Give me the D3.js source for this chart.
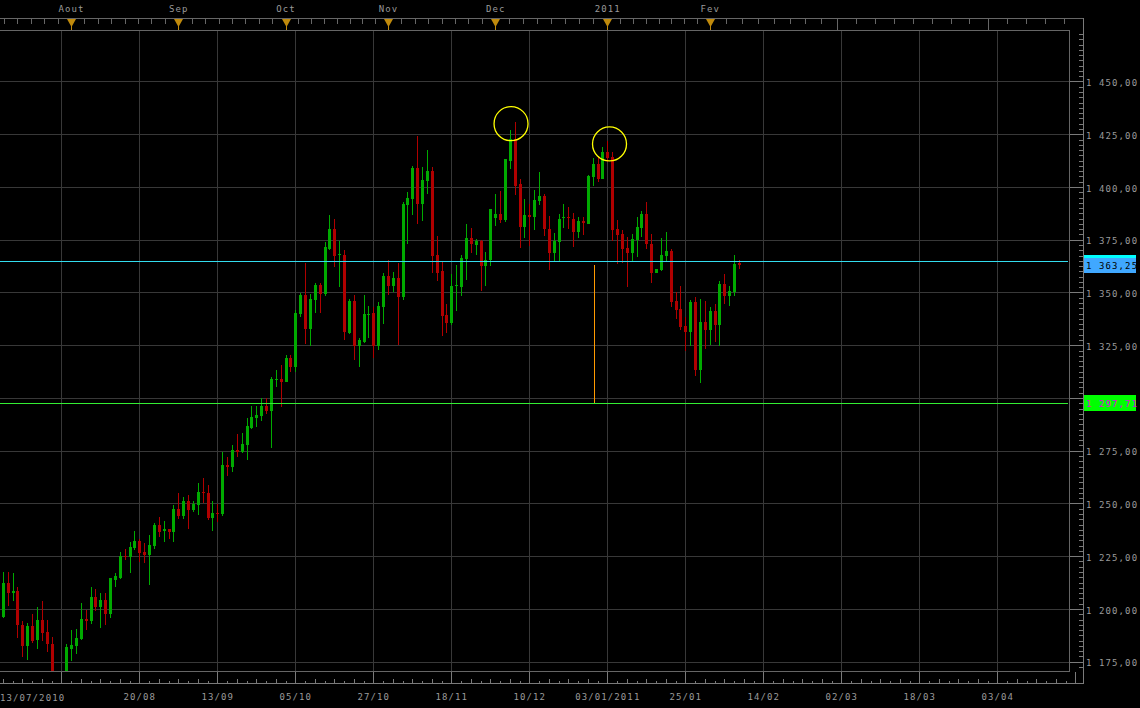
<!DOCTYPE html>
<html><head><meta charset="utf-8">
<script src="https://cdn.jsdelivr.net/npm/d3@7"></script>
<style>
html,body{margin:0;padding:0;background:#000;}
svg{display:block;}
text{font-family:"DejaVu Sans Mono",monospace;font-size:9px;letter-spacing:1.1px;}
</style></head><body>
<svg id="c" width="1140" height="708"></svg>
<script>
// ---------------- DATA ----------------
const opens = [
1196.1,1212.2,1207.8,1208.5,1192.5,1182.3,1192.0,1185.1,1194.9,1189.3,
1183.5,1160.5,1163.0,1166.0,1181.1,1182.4,1185.9,1195.3,1194.2,1205.7,
1201.1,1204.3,1197.7,1213.5,1214.6,1225.1,1224.5,1229.1,1232.2,1227.0,
1225.6,1230.0,1240.0,1236.8,1237.9,1236.6,1247.4,1244.0,1251.2,1246.9,
1249.3,1255.3,1255.0,1243.3,1245.5,1245.2,1268.2,1267.4,1275.3,1274.5,
1277.7,1285.6,1290.6,1291.4,1296.1,1293.8,1308.4,1309.2,1307.5,1319.0,
1314.7,1339.7,1348.7,1332.6,1346.3,1353.4,1349.1,1370.8,1380.2,1367.6,
1367.6,1331.0,1345.8,1324.5,1326.6,1339.2,1340.3,1324.7,1343.1,1357.8,
1352.9,1356.7,1347.9,1391.3,1394.1,1408.9,1391.7,1402.6,1407.8,1367.6,
1360.0,1339.2,1335.3,1353.1,1352.6,1365.7,1376.0,1372.3,1374.2,1362.5,
1365.2,1385.4,1387.0,1384.2,1412.4,1422.8,1401.2,1381.0,1386.5,1385.7,
1393.3,1395.5,1380.2,1368.9,1373.9,1385.3,1385.9,1384.6,1378.6,1383.7,
1382.6,1404.7,1410.7,1403.6,1416.8,1414.1,1379.9,1377.5,1371.0,1368.7,
1375.0,1380.5,1387.0,1373.1,1359.2,1360.5,1367.3,1369.5,1345.8,1342.0,
1334.1,1331.2,1345.5,1313.2,1336.0,1332.1,1341.1,1334.5,1353.9,1348.3,
1350.2,1364.0];
const highs = [
1217.7,1217.6,1216.9,1210.3,1194.3,1193.5,1197.5,1201.0,1203.8,1194.6,
1186.6,1169.0,1169.5,1183.5,1190.1,1190.6,1203.0,1199.6,1210.6,1209.5,
1207.5,1207.8,1214.9,1217.0,1227.0,1228.5,1231.8,1237.0,1233.0,1231.3,
1235.0,1240.8,1243.6,1241.7,1237.9,1249.3,1255.0,1253.0,1254.0,1251.0,
1259.8,1262.0,1258.7,1251.2,1249.6,1274.4,1271.9,1277.7,1282.9,1283.5,
1290.5,1296.1,1296.1,1299.9,1299.9,1309.9,1313.2,1315.5,1320.3,1320.3,
1341.6,1349.6,1364.1,1349.1,1354.7,1354.7,1373.7,1386.5,1384.6,1374.2,
1370.3,1346.8,1348.7,1328.2,1348.7,1343.5,1343.1,1345.4,1359.2,1365.2,
1359.5,1364.1,1392.8,1397.6,1409.9,1424.1,1409.7,1417.3,1409.7,1376.7,
1364.4,1344.4,1358.9,1362.9,1367.6,1382.3,1380.7,1375.2,1375.0,1369.2,
1389.4,1396.5,1397.9,1413.4,1426.8,1430.7,1403.6,1394.1,1392.0,1398.8,
1407.3,1396.8,1386.2,1378.3,1387.3,1391.7,1390.5,1387.8,1385.7,1385.7,
1405.9,1413.8,1414.9,1418.8,1422.0,1416.8,1384.2,1379.4,1376.3,1377.5,
1386.0,1388.4,1392.8,1377.5,1361.0,1375.6,1378.5,1370.8,1350.0,1352.9,
1338.4,1346.3,1347.9,1346.8,1346.0,1343.1,1344.4,1355.3,1358.9,1352.9,
1367.6,1365.2];
const lows = [
1195.7,1201.5,1204.0,1186.3,1177.2,1175.6,1183.8,1181.1,1184.6,1179.8,
1158.0,1155.0,1157.5,1163.0,1175.3,1178.7,1185.4,1190.1,1192.8,1199.0,
1191.2,1192.6,1195.5,1210.6,1214.2,1223.3,1217.2,1228.0,1222.4,1222.0,
1211.4,1228.4,1234.0,1231.8,1233.0,1231.8,1242.5,1242.8,1237.9,1246.0,
1244.5,1250.1,1242.2,1237.0,1241.4,1244.2,1263.1,1265.0,1272.1,1274.0,
1270.6,1285.1,1286.3,1289.0,1292.3,1276.3,1305.1,1295.8,1307.5,1312.4,
1312.4,1338.4,1325.5,1324.5,1340.3,1340.3,1348.2,1370.0,1362.0,1352.6,
1327.4,1330.2,1317.9,1314.7,1326.1,1328.2,1319.0,1322.6,1334.9,1348.7,
1350.2,1325.0,1346.6,1372.8,1386.5,1382.3,1383.7,1396.5,1359.4,1355.3,
1329.3,1330.8,1334.5,1341.2,1348.3,1355.8,1368.7,1367.6,1350.7,1353.1,
1362.5,1381.5,1383.0,1383.4,1408.3,1396.0,1371.0,1376.0,1372.0,1379.4,
1391.3,1376.7,1360.5,1364.4,1364.9,1380.5,1380.2,1371.5,1376.0,1377.1,
1382.3,1400.4,1402.3,1403.6,1411.7,1374.4,1363.7,1364.0,1352.6,1364.9,
1366.8,1376.3,1370.8,1354.5,1359.2,1360.2,1364.8,1343.1,1337.3,1332.1,
1322.2,1324.7,1310.3,1307.2,1323.1,1325.0,1326.6,1324.7,1344.4,1343.5,
1348.3,1361.3];
const closes = [
1212.2,1207.8,1208.5,1192.3,1182.3,1192.0,1185.0,1194.9,1188.8,1183.4,
1160.5,1163.0,1166.0,1181.8,1183.0,1186.3,1195.3,1194.5,1205.7,1201.1,
1204.3,1197.7,1214.6,1215.4,1225.1,1224.5,1229.3,1232.2,1226.7,1225.6,
1230.3,1240.0,1236.6,1237.8,1236.6,1247.4,1244.0,1251.2,1246.9,1249.8,
1255.4,1254.8,1243.3,1245.6,1245.2,1268.2,1267.4,1275.3,1274.5,1278.0,
1286.7,1291.0,1291.9,1296.1,1293.8,1308.9,1309.2,1307.5,1319.0,1314.7,
1340.3,1348.7,1332.6,1346.8,1353.4,1349.1,1371.5,1380.2,1367.3,1368.1,
1331.3,1345.8,1324.5,1327.4,1339.7,1340.0,1324.7,1343.5,1357.8,1352.9,
1356.7,1347.9,1392.1,1394.7,1408.9,1391.7,1403.1,1407.8,1367.1,1359.4,
1338.7,1335.3,1353.1,1353.5,1366.3,1376.0,1372.8,1374.4,1362.5,1365.6,
1389.4,1387.0,1384.2,1413.4,1422.8,1400.7,1381.0,1386.5,1385.7,1394.0,
1395.7,1379.9,1368.9,1374.4,1385.0,1385.9,1385.3,1378.6,1383.7,1383.1,
1405.1,1410.7,1403.6,1416.8,1413.6,1379.4,1377.1,1370.4,1368.7,1375.5,
1381.0,1387.0,1373.1,1359.2,1361.0,1367.6,1369.5,1345.5,1341.6,1333.5,
1331.2,1345.5,1313.2,1336.0,1332.1,1341.1,1334.5,1353.9,1348.3,1350.6,
1363.3,1363.25];

const firstDayLabel = "13/07/2010";
const dateTickIdx = [28,44,60,76,92,108,124,140,156,172,188,204];
const dateTickLabels = ["20/08","13/09","05/10","27/10","18/11","10/12","03/01/2011","25/01","14/02","02/03","18/03","03/04"];
const gridIdx = [12,28,44,60,76,92,108,124,140,156,172,188,204,220];
const monthIdx = [14,36,58,79,101,124,145];
const monthLabels = ["Aout","Sep","Oct","Nov","Dec","2011","Fev"];
const futureMonthIdx = [171.2,202.15];
const priceTicks = [1175,1200,1225,1250,1275,1300,1325,1350,1375,1400,1425,1450];
const lastPrice = 1363.25;
const priceLineLevel = 1364.75;
const supportLevel = 1297.71;
const measureIdx = 121.35;
const highlightIdx = [104.25,124.45];
const highlightValue = [1430.0,1420.4];

// ---------------- LAYOUT ----------------
const W=1140,H=708;
const plot={left:0,right:1069,top:30,bottom:671};
const axisX=1083, axisY=683, topBarY=18;
const svg=d3.select("#c");
svg.append("rect").attr("width",W).attr("height",H).attr("fill","#000");
const x=d3.scaleLinear().domain([-0.574,218.7]).range([plot.left,plot.right]);
const y=d3.scaleLinear().domain([1170.6,1474.4]).range([plot.bottom,plot.top]);
const px=v=>Math.round(v)+0.5;
const fr=d3.formatLocale({decimal:",",thousands:" ",grouping:[3],currency:["",""]}).format(",.2f");
const GRID="#383838", FRAME="#666", AXIS="#7a7a7a", LBL="#9a9a9a";

svg.append("defs").append("clipPath").attr("id","clip").append("rect")
  .attr("x",plot.left).attr("y",plot.top).attr("width",plot.right-plot.left).attr("height",plot.bottom-plot.top);

const lines=svg.append("g").attr("shape-rendering","crispEdges");
lines.selectAll(".hg").data(priceTicks).join("line")
  .attr("x1",plot.left).attr("x2",plot.right)
  .attr("y1",d=>px(y(d))).attr("y2",d=>px(y(d))).attr("stroke",GRID);
lines.selectAll(".vg").data(gridIdx.filter(d=>x(d)<plot.right)).join("line")
  .attr("x1",d=>px(x(d))).attr("x2",d=>px(x(d)))
  .attr("y1",plot.top).attr("y2",plot.bottom).attr("stroke",GRID);
lines.append("line").attr("x1",0).attr("x2",axisX).attr("y1",topBarY+0.5).attr("y2",topBarY+0.5).attr("stroke",FRAME);
lines.append("line").attr("x1",0).attr("x2",plot.right).attr("y1",plot.top+0.5).attr("y2",plot.top+0.5).attr("stroke",FRAME);
lines.append("line").attr("x1",0).attr("x2",plot.right+0.5).attr("y1",plot.bottom+0.5).attr("y2",plot.bottom+0.5).attr("stroke",FRAME);
lines.append("line").attr("x1",plot.right+0.5).attr("x2",plot.right+0.5).attr("y1",plot.top).attr("y2",plot.bottom+1).attr("stroke",FRAME);
lines.append("line").attr("x1",axisX+0.5).attr("x2",axisX+0.5).attr("y1",topBarY).attr("y2",axisY+1).attr("stroke",AXIS);
lines.append("line").attr("x1",0).attr("x2",axisX+1).attr("y1",axisY+0.5).attr("y2",axisY+0.5).attr("stroke",AXIS);

function styleAxis(g,color){
  g.select(".domain").remove();
  g.selectAll("line").attr("stroke",color).attr("shape-rendering","crispEdges");
  g.selectAll("text").attr("fill",LBL);
}
// right axis
const minorPrices=d3.range(1172.5,1474,2.5).filter(v=>Math.abs((v/25)-Math.round(v/25))>1e-6);
svg.append("g").attr("transform",`translate(${axisX+0.5},0)`)
  .call(d3.axisLeft(y).tickValues(priceTicks).tickSize(14).tickFormat(""))
  .call(g=>styleAxis(g,AXIS));
svg.append("g").attr("transform",`translate(${axisX+0.5},0)`)
  .call(d3.axisLeft(y).tickValues(minorPrices).tickSize(5).tickFormat(""))
  .call(g=>styleAxis(g,AXIS));
// labels hidden behind the price tags are not drawn (as in the reference)
const visibleLabels=priceTicks.filter(v=>Math.abs(y(v)-y(lastPrice))>10 && Math.abs(y(v)-y(supportLevel))>10);
svg.append("g").attr("transform",`translate(${axisX},0)`)
  .call(d3.axisRight(y).tickValues(visibleLabels).tickSize(0).tickPadding(3).tickFormat(fr))
  .call(g=>styleAxis(g,AXIS))
  .call(g=>g.selectAll("text").attr("dy","0.45em"));

// bottom axis
svg.append("g").attr("transform",`translate(0,${axisY+0.5})`)
  .call(d3.axisTop(x).tickValues(gridIdx).tickSize(12).tickFormat(""))
  .call(g=>styleAxis(g,AXIS));
const dayTicks=d3.range(0,222,2).filter(d=>x(d)<axisX && (d-12)%16!==0);
svg.append("g").attr("transform",`translate(0,${axisY+0.5})`)
  .call(d3.axisTop(x).tickValues(dayTicks.filter(d=>(d-12)%4===0)).tickSize(5).tickFormat(""))
  .call(g=>styleAxis(g,AXIS));
svg.append("g").attr("transform",`translate(0,${axisY+0.5})`)
  .call(d3.axisTop(x).tickValues(dayTicks.filter(d=>(d-12)%4!==0)).tickSize(3).tickFormat(""))
  .call(g=>styleAxis(g,AXIS));
svg.append("g").attr("transform",`translate(0,${axisY})`)
  .call(d3.axisBottom(x).tickValues(dateTickIdx).tickSize(0).tickPadding(11).tickFormat((d,i)=>dateTickLabels[i]))
  .call(g=>styleAxis(g,AXIS));
svg.append("text").attr("x",0).attr("y",axisY+18).attr("fill",LBL).text(firstDayLabel);

// top month axis
const marks=monthIdx.concat(futureMonthIdx);
const topTicks=[];
for(let k=0;k<marks.length-1;k++){
  const a=marks[k],b=marks[k+1],st=(b-a)/8;
  for(let j=1;j<8;j++) topTicks.push(a+j*st);
}
{ const st=(marks[1]-marks[0])/8; for(let v=marks[0]-st; x(v)>0; v-=st) topTicks.push(v); }
{ const n=marks.length, st=(marks[n-1]-marks[n-2])/8; for(let v=marks[n-1]+st; x(v)<axisX-2; v+=st) topTicks.push(v); }
svg.append("g").attr("transform",`translate(0,${topBarY+0.5})`)
  .call(d3.axisBottom(x).tickValues(topTicks).tickSize(5).tickFormat(""))
  .call(g=>styleAxis(g,FRAME));
svg.append("g").attr("transform",`translate(0,${topBarY+0.5})`)
  .call(d3.axisBottom(x).tickValues(futureMonthIdx).tickSize(plot.top-topBarY).tickFormat(""))
  .call(g=>styleAxis(g,FRAME));
svg.append("g").attr("transform",`translate(0,${topBarY})`)
  .call(d3.axisTop(x).tickValues(monthIdx).tickSize(0).tickPadding(6).tickFormat((d,i)=>monthLabels[i]))
  .call(g=>styleAxis(g,FRAME));
const tri=svg.append("g");
tri.selectAll("path").data(monthIdx).join("path")
  .attr("transform",d=>`translate(${Math.round(x(d))+0.5},${topBarY+1})`)
  .attr("d","M-4.5,0L4.5,0L0,8Z").attr("fill","#c08a0c");
tri.selectAll("rect").data(monthIdx).join("rect")
  .attr("x",d=>Math.round(x(d))).attr("y",topBarY+8).attr("width",1).attr("height",plot.top-topBarY-8)
  .attr("fill","#c08a0c");

// candles
const candles=opens.map((o,i)=>({i,o,h:highs[i],l:lows[i],c:closes[i]}));
const col=d=>d.c>=d.o?"#00aa00":"#b00000";
const cg=svg.append("g").attr("clip-path","url(#clip)").attr("shape-rendering","crispEdges");
cg.selectAll(".wick").data(candles).join("rect").attr("class","wick")
  .attr("x",d=>Math.round(x(d.i))).attr("width",1)
  .attr("y",d=>y(d.h)).attr("height",d=>Math.max(1,y(d.l)-y(d.h))).attr("fill",col);
cg.selectAll(".body").data(candles).join("rect").attr("class","body")
  .attr("x",d=>Math.round(x(d.i))-1).attr("width",3)
  .attr("y",d=>y(Math.max(d.o,d.c))).attr("height",d=>Math.max(1.2,Math.abs(y(d.o)-y(d.c)))).attr("fill",col);

// levels
const lv=svg.append("g").attr("shape-rendering","crispEdges");
lv.append("line").attr("x1",0).attr("x2",plot.right-1).attr("y1",px(y(priceLineLevel))).attr("y2",px(y(priceLineLevel))).attr("stroke","#33ddee");
lv.append("line").attr("x1",0).attr("x2",plot.right-1).attr("y1",px(y(supportLevel))).attr("y2",px(y(supportLevel))).attr("stroke","#33ee33");
lv.append("line").attr("x1",px(x(measureIdx))).attr("x2",px(x(measureIdx))).attr("y1",y(lastPrice)).attr("y2",y(supportLevel)).attr("stroke","#ff9a00");

// highlight circles
svg.append("g").selectAll("circle").data(highlightIdx).join("circle")
  .attr("cx",d=>x(d)).attr("cy",(d,i)=>y(highlightValue[i])).attr("r",17)
  .attr("fill","none").attr("stroke","#ffff00").attr("stroke-width",1.3);

// price tags
const tg=svg.append("g").attr("shape-rendering","crispEdges");
const yl=Math.round(y(lastPrice));
tg.append("rect").attr("x",axisX+1).attr("y",yl-8).attr("width",52).attr("height",16).attr("fill","#40a8ff");
tg.append("rect").attr("x",axisX+1).attr("y",yl-10).attr("width",52).attr("height",3).attr("fill","#00ffff");
tg.append("text").attr("x",axisX+3).attr("y",yl+4).attr("fill","#000").text(fr(lastPrice));
const ys=Math.round(y(supportLevel));
tg.append("rect").attr("x",axisX+1).attr("y",ys-8).attr("width",52).attr("height",16).attr("fill","#00ff00");
tg.append("text").attr("x",axisX+3).attr("y",ys+4).attr("fill","#e000e0").text(fr(supportLevel));
</script>
</body></html>
